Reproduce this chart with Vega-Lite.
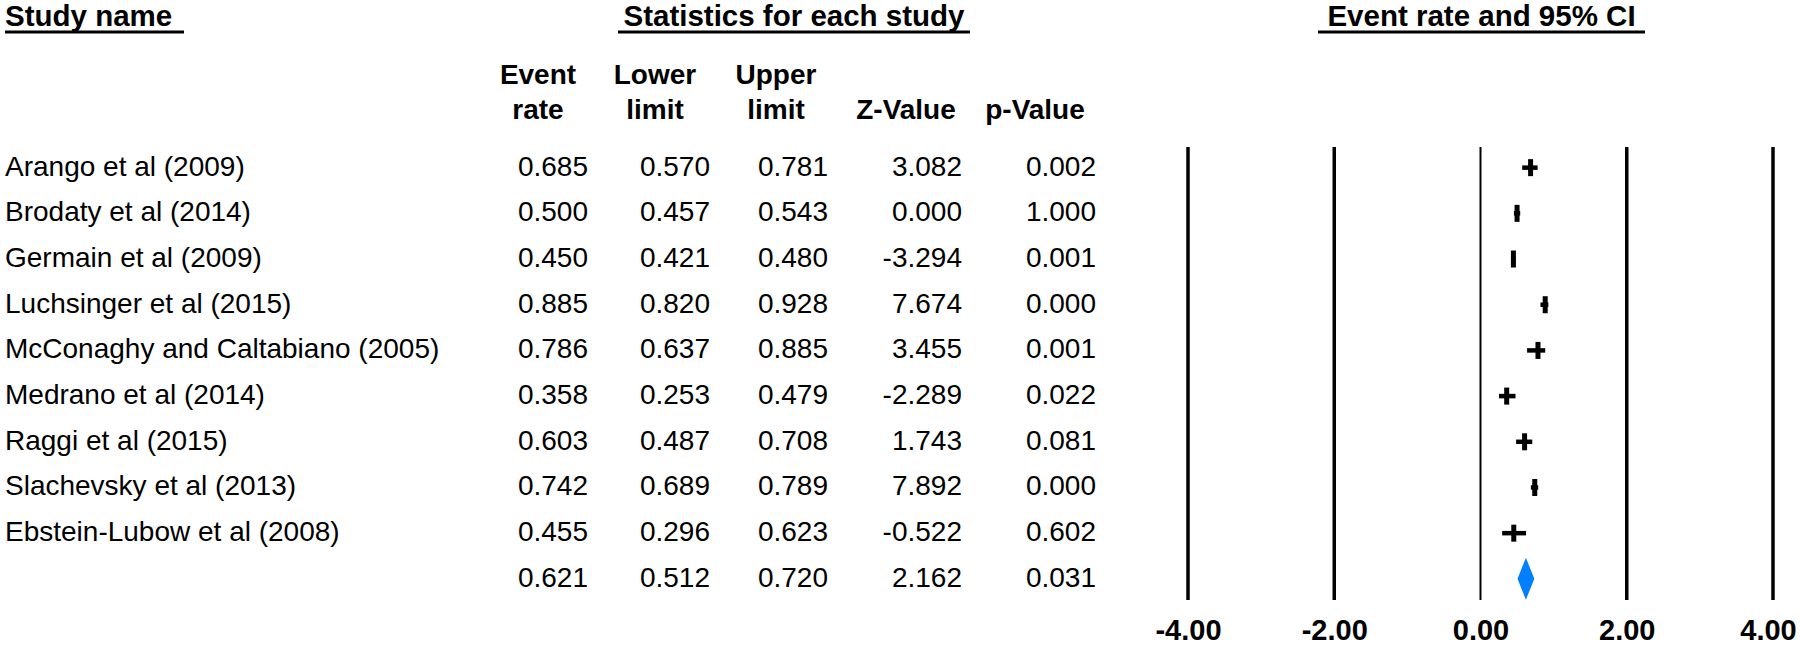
{
  "$schema": "https://vega.github.io/schema/vega-lite/v6.json",
  "width": 1800,
  "height": 646,
  "padding": 0,
  "autosize": {"type": "none"},
  "background": "white",
  "config": {
    "view": {"stroke": null},
    "font": "Liberation Sans",
    "locale": {"number": {"decimal": ".", "thousands": ",", "grouping": [3], "currency": ["$", ""], "minus": "-"}}
  },
  "datasets": {
    "studies": [
      {"study": "Arango et al (2009)", "label": "Arango et al (2009)", "rate": 0.685, "lower": 0.570, "upper": 0.781, "z": 3.082, "p": 0.002},
      {"study": "Brodaty et al (2014)", "label": "Brodaty et al (2014)", "rate": 0.500, "lower": 0.457, "upper": 0.543, "z": 0.000, "p": 1.000},
      {"study": "Germain et al (2009)", "label": "Germain et al (2009)", "rate": 0.450, "lower": 0.421, "upper": 0.480, "z": -3.294, "p": 0.001},
      {"study": "Luchsinger et al (2015)", "label": "Luchsinger et al (2015)", "rate": 0.885, "lower": 0.820, "upper": 0.928, "z": 7.674, "p": 0.000},
      {"study": "McConaghy and Caltabiano (2005)", "label": "McConaghy and Caltabiano (2005)", "rate": 0.786, "lower": 0.637, "upper": 0.885, "z": 3.455, "p": 0.001},
      {"study": "Medrano et al (2014)", "label": "Medrano et al (2014)", "rate": 0.358, "lower": 0.253, "upper": 0.479, "z": -2.289, "p": 0.022},
      {"study": "Raggi et al (2015)", "label": "Raggi et al (2015)", "rate": 0.603, "lower": 0.487, "upper": 0.708, "z": 1.743, "p": 0.081},
      {"study": "Slachevsky et al (2013)", "label": "Slachevsky et al (2013)", "rate": 0.742, "lower": 0.689, "upper": 0.789, "z": 7.892, "p": 0.000},
      {"study": "Ebstein-Lubow et al (2008)", "label": "Ebstein-Lubow et al (2008)", "rate": 0.455, "lower": 0.296, "upper": 0.623, "z": -0.522, "p": 0.602},
      {"study": "Summary", "label": "", "rate": 0.621, "lower": 0.512, "upper": 0.720, "z": 2.162, "p": 0.031}
    ],
    "columns": [
      {"slot": 1, "line1": "Event", "line2": "rate"},
      {"slot": 2, "line1": "Lower", "line2": "limit"},
      {"slot": 3, "line1": "Upper", "line2": "limit"},
      {"slot": 4, "line1": "", "line2": "Z-Value"},
      {"slot": 5, "line1": "", "line2": "p-Value"}
    ],
    "headers": [
      {"section": "Study name"},
      {"section": "Statistics for each study"},
      {"section": "Event rate and 95% CI"}
    ],
    "ticks": [{"v": -4}, {"v": -2}, {"v": 0}, {"v": 2}, {"v": 4}]
  },
  "layer": [
    {
      "data": {"name": "studies"},
      "encoding": {
        "y": {"field": "study", "type": "nominal", "axis": null,
              "scale": {"type": "band", "domain": ["Arango et al (2009)", "Brodaty et al (2014)", "Germain et al (2009)", "Luchsinger et al (2015)", "McConaghy and Caltabiano (2005)", "Medrano et al (2014)", "Raggi et al (2015)", "Slachevsky et al (2013)", "Ebstein-Lubow et al (2008)", "Summary"], "range": [144.8, 601.7], "paddingInner": 0, "paddingOuter": 0}}
      },
      "layer": [
        {"mark": {"type": "text", "align": "left", "baseline": "middle", "fontSize": 28, "color": "black"},
         "encoding": {"x": {"datum": 0, "type": "quantitative", "axis": null, "scale": {"domain": [0, 1, 2, 3, 4, 5], "range": [5, 588, 710, 828, 962, 1096], "nice": false, "zero": false}},
                      "text": {"field": "label", "type": "nominal"}}},
        {"mark": {"type": "text", "align": "right", "baseline": "middle", "fontSize": 28, "color": "black"},
         "encoding": {"x": {"datum": 1, "type": "quantitative", "axis": null, "scale": {"domain": [0, 1, 2, 3, 4, 5], "range": [5, 588, 710, 828, 962, 1096], "nice": false, "zero": false}},
                      "text": {"field": "rate", "type": "quantitative", "format": ".3f"}}},
        {"mark": {"type": "text", "align": "right", "baseline": "middle", "fontSize": 28, "color": "black"},
         "encoding": {"x": {"datum": 2, "type": "quantitative", "axis": null, "scale": {"domain": [0, 1, 2, 3, 4, 5], "range": [5, 588, 710, 828, 962, 1096], "nice": false, "zero": false}},
                      "text": {"field": "lower", "type": "quantitative", "format": ".3f"}}},
        {"mark": {"type": "text", "align": "right", "baseline": "middle", "fontSize": 28, "color": "black"},
         "encoding": {"x": {"datum": 3, "type": "quantitative", "axis": null, "scale": {"domain": [0, 1, 2, 3, 4, 5], "range": [5, 588, 710, 828, 962, 1096], "nice": false, "zero": false}},
                      "text": {"field": "upper", "type": "quantitative", "format": ".3f"}}},
        {"mark": {"type": "text", "align": "right", "baseline": "middle", "fontSize": 28, "color": "black"},
         "encoding": {"x": {"datum": 4, "type": "quantitative", "axis": null, "scale": {"domain": [0, 1, 2, 3, 4, 5], "range": [5, 588, 710, 828, 962, 1096], "nice": false, "zero": false}},
                      "text": {"field": "z", "type": "quantitative", "format": ".3f"}}},
        {"mark": {"type": "text", "align": "right", "baseline": "middle", "fontSize": 28, "color": "black"},
         "encoding": {"x": {"datum": 5, "type": "quantitative", "axis": null, "scale": {"domain": [0, 1, 2, 3, 4, 5], "range": [5, 588, 710, 828, 962, 1096], "nice": false, "zero": false}},
                      "text": {"field": "p", "type": "quantitative", "format": ".3f"}}}
      ]
    },
    {
      "data": {"name": "columns"},
      "encoding": {
        "x": {"field": "slot", "type": "quantitative", "axis": null, "scale": {"domain": [1, 2, 3, 4, 5], "range": [538, 655, 776, 906, 1035], "nice": false, "zero": false}}
      },
      "layer": [
        {"mark": {"type": "text", "align": "center", "baseline": "alphabetic", "fontSize": 28, "fontWeight": "bold", "color": "black"},
         "encoding": {"y": {"datum": 0, "type": "quantitative", "axis": null, "scale": {"domain": [0, 1], "range": [84, 119], "nice": false, "zero": false}},
                      "text": {"field": "line1", "type": "nominal"}}},
        {"mark": {"type": "text", "align": "center", "baseline": "alphabetic", "fontSize": 28, "fontWeight": "bold", "color": "black"},
         "encoding": {"y": {"datum": 1, "type": "quantitative", "axis": null, "scale": {"domain": [0, 1], "range": [84, 119], "nice": false, "zero": false}},
                      "text": {"field": "line2", "type": "nominal"}}}
      ]
    },
    {
      "data": {"name": "headers"},
      "layer": [
        {"transform": [{"filter": "datum.section === 'Study name'"}],
         "mark": {"type": "text", "align": "left", "baseline": "alphabetic", "fontSize": 29.5, "fontWeight": "bold", "color": "black"},
         "encoding": {"x": {"datum": 0, "type": "quantitative", "axis": null, "scale": {"domain": [0, 1, 2, 3, 4, 5], "range": [5, 184, 618, 970, 1318, 1645], "nice": false, "zero": false}},
                      "y": {"datum": 0, "type": "quantitative", "axis": null, "scale": {"domain": [0, 1], "range": [26, 32], "nice": false, "zero": false}},
                      "text": {"field": "section", "type": "nominal"}}},
        {"transform": [{"filter": "datum.section === 'Statistics for each study'"}],
         "mark": {"type": "text", "align": "center", "baseline": "alphabetic", "fontSize": 29.5, "fontWeight": "bold", "color": "black"},
         "encoding": {"x": {"datum": 2.5, "type": "quantitative", "axis": null, "scale": {"domain": [0, 1, 2, 3, 4, 5], "range": [5, 184, 618, 970, 1318, 1645], "nice": false, "zero": false}},
                      "y": {"datum": 0, "type": "quantitative", "axis": null, "scale": {"domain": [0, 1], "range": [26, 32], "nice": false, "zero": false}},
                      "text": {"field": "section", "type": "nominal"}}},
        {"transform": [{"filter": "datum.section === 'Event rate and 95% CI'"}],
         "mark": {"type": "text", "align": "center", "baseline": "alphabetic", "fontSize": 29.5, "fontWeight": "bold", "color": "black"},
         "encoding": {"x": {"datum": 4.5, "type": "quantitative", "axis": null, "scale": {"domain": [0, 1, 2, 3, 4, 5], "range": [5, 184, 618, 970, 1318, 1645], "nice": false, "zero": false}},
                      "y": {"datum": 0, "type": "quantitative", "axis": null, "scale": {"domain": [0, 1], "range": [26, 32], "nice": false, "zero": false}},
                      "text": {"field": "section", "type": "nominal"}}},
        {"transform": [{"filter": "datum.section === 'Study name'"}],
         "mark": {"type": "rule", "strokeWidth": 3, "color": "black"},
         "encoding": {"x": {"datum": 0, "type": "quantitative", "axis": null, "scale": {"domain": [0, 1, 2, 3, 4, 5], "range": [5, 184, 618, 970, 1318, 1645], "nice": false, "zero": false}},
                      "x2": {"datum": 1},
                      "y": {"datum": 1, "type": "quantitative", "axis": null, "scale": {"domain": [0, 1], "range": [26, 32], "nice": false, "zero": false}}}},
        {"transform": [{"filter": "datum.section === 'Statistics for each study'"}],
         "mark": {"type": "rule", "strokeWidth": 3, "color": "black"},
         "encoding": {"x": {"datum": 2, "type": "quantitative", "axis": null, "scale": {"domain": [0, 1, 2, 3, 4, 5], "range": [5, 184, 618, 970, 1318, 1645], "nice": false, "zero": false}},
                      "x2": {"datum": 3},
                      "y": {"datum": 1, "type": "quantitative", "axis": null, "scale": {"domain": [0, 1], "range": [26, 32], "nice": false, "zero": false}}}},
        {"transform": [{"filter": "datum.section === 'Event rate and 95% CI'"}],
         "mark": {"type": "rule", "strokeWidth": 3, "color": "black"},
         "encoding": {"x": {"datum": 4, "type": "quantitative", "axis": null, "scale": {"domain": [0, 1, 2, 3, 4, 5], "range": [5, 184, 618, 970, 1318, 1645], "nice": false, "zero": false}},
                      "x2": {"datum": 5},
                      "y": {"datum": 1, "type": "quantitative", "axis": null, "scale": {"domain": [0, 1], "range": [26, 32], "nice": false, "zero": false}}}}
      ]
    },
    {
      "data": {"name": "ticks"},
      "mark": {"type": "rule", "color": "black"},
      "encoding": {
        "x": {"field": "v", "type": "quantitative", "axis": null, "scale": {"domain": [-4, 4], "range": [1188, 1773], "nice": false, "zero": false}},
        "y": {"datum": 0, "type": "quantitative", "axis": null, "scale": {"domain": [0, 1], "range": [147, 600], "nice": false, "zero": false}},
        "y2": {"datum": 1},
        "strokeWidth": {"condition": {"test": "datum.v === 0", "value": 2}, "value": 3.5}
      }
    },
    {
      "data": {"name": "studies"},
      "encoding": {
        "y": {"field": "study", "type": "nominal", "axis": null,
              "scale": {"type": "band", "domain": ["Arango et al (2009)", "Brodaty et al (2014)", "Germain et al (2009)", "Luchsinger et al (2015)", "McConaghy and Caltabiano (2005)", "Medrano et al (2014)", "Raggi et al (2015)", "Slachevsky et al (2013)", "Ebstein-Lubow et al (2008)", "Summary"], "range": [144.8, 601.7], "paddingInner": 0, "paddingOuter": 0}}
      },
      "layer": [
        {"transform": [{"filter": "datum.study !== 'Summary'"}],
         "mark": {"type": "rule", "strokeWidth": 4.5, "color": "black"},
         "encoding": {
           "x": {"field": "lower", "type": "quantitative",
                 "scale": {"domain": [-4, 4], "range": [1188, 1773], "nice": false, "zero": false},
                 "axis": {"values": [-4, -2, 0, 2, 4], "format": ".2f", "title": null, "domain": false, "ticks": false, "grid": false,
                          "labelFont": "Liberation Sans", "labelFontWeight": "bold", "labelFontSize": 29, "labelColor": "black",
                          "labelPadding": 0, "labelBaseline": "alphabetic", "offset": -7, "labelFlush": false, "labelOverlap": false, "labelBound": false, "orient": "bottom",
                          "labelOffset": {"condition": {"test": "datum.value === 4", "value": -5}, "value": 0}}},
           "x2": {"field": "upper"}
         }},
        {"transform": [{"filter": "datum.study !== 'Summary'"}],
         "mark": {"type": "tick", "orient": "vertical", "thickness": 5, "size": 17, "color": "black", "opacity": 1},
         "encoding": {
           "x": {"field": "rate", "type": "quantitative", "scale": {"domain": [-4, 4], "range": [1188, 1773], "nice": false, "zero": false}}
         }},
        {"transform": [{"filter": "datum.study === 'Summary'"}],
         "mark": {"type": "point", "shape": "M0,-1L0.4,0L0,1L-0.4,0Z", "size": 1764, "filled": true, "color": "#0080FF", "opacity": 1, "strokeWidth": 0},
         "encoding": {
           "x": {"field": "rate", "type": "quantitative", "scale": {"domain": [-4, 4], "range": [1188, 1773], "nice": false, "zero": false}}
         }}
      ]
    }
  ],
  "resolve": {"scale": {"x": "independent", "y": "independent"}}
}
